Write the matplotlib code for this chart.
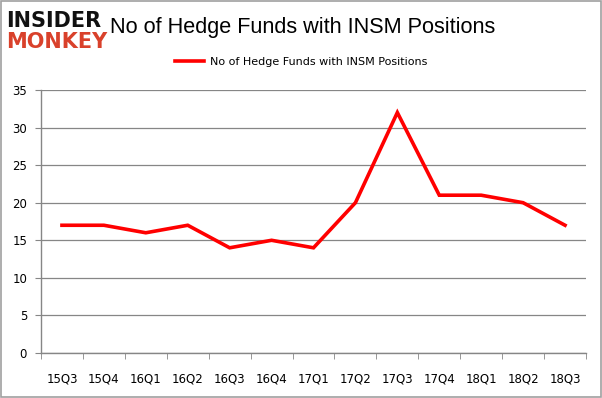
import matplotlib
matplotlib.use("Agg")
import matplotlib.pyplot as plt
from matplotlib.patches import Rectangle

quarters = ["15Q3", "15Q4", "16Q1", "16Q2", "16Q3", "16Q4", "17Q1",
            "17Q2", "17Q3", "17Q4", "18Q1", "18Q2", "18Q3"]
funds = [17, 17, 16, 17, 14, 15, 14, 20, 32, 21, 21, 20, 17]
series_name = "No of Hedge Funds with INSM Positions"
yticks = [0, 5, 10, 15, 20, 25, 30, 35]

fig = plt.figure(figsize=(6.02, 3.98), dpi=100)
ax = fig.add_axes([41/602, 1-353/398, (586-41)/602, (353-90)/398])

x = list(range(len(quarters)))
ax.plot(x, funds, color="#ff0000", lw=2.6, solid_joinstyle="miter", label=series_name, zorder=3)

ax.set_xlim(-0.5, len(quarters)-0.5)
ax.set_ylim(0, 35)
ax.set_yticks(yticks)
ax.set_yticklabels([str(v) for v in yticks], fontsize=8.5)
ax.set_xticks(x)
ax.set_xticklabels(quarters, fontsize=8.5)
ax.set_xticks([i-0.5 for i in range(len(quarters)+1)], minor=True)
ax.tick_params(axis="x", which="major", length=0, pad=14)
ax.tick_params(axis="x", which="minor", length=4, color="#868686")
ax.tick_params(axis="y", length=4, color="#868686", pad=6)
ax.grid(axis="y", color="#868686", lw=0.9)
ax.set_axisbelow(True)
for s in ["top", "right"]:
    ax.spines[s].set_visible(False)
for s in ["left", "bottom"]:
    ax.spines[s].set_color("#868686")
    ax.spines[s].set_linewidth(1.0)

handles, labels = ax.get_legend_handles_labels()
fig.legend(handles, labels, loc="center", bbox_to_anchor=(0.5, 1-62/398), frameon=False,
           fontsize=8, handlelength=2.6, handletextpad=0.5, borderpad=0)

fig.text(0.503, 0.932, "No of Hedge Funds with INSM Positions", ha="center", va="center",
         fontsize=15.6, family="Liberation Sans")
fig.text(0.010, 0.947, "INSIDER", ha="left", va="center", fontsize=15,
         fontweight="black", color="#111111", family="DejaVu Sans")
fig.text(0.010, 0.895, "MONKEY", ha="left", va="center", fontsize=15,
         fontweight="black", color="#d9412b", family="DejaVu Sans")

fig.patches.append(Rectangle((0.002, 0.003), 0.996, 0.994, transform=fig.transFigure,
                             fill=False, edgecolor="#a0a0a0", lw=1.2))

fig.savefig("out.png", dpi=100)
